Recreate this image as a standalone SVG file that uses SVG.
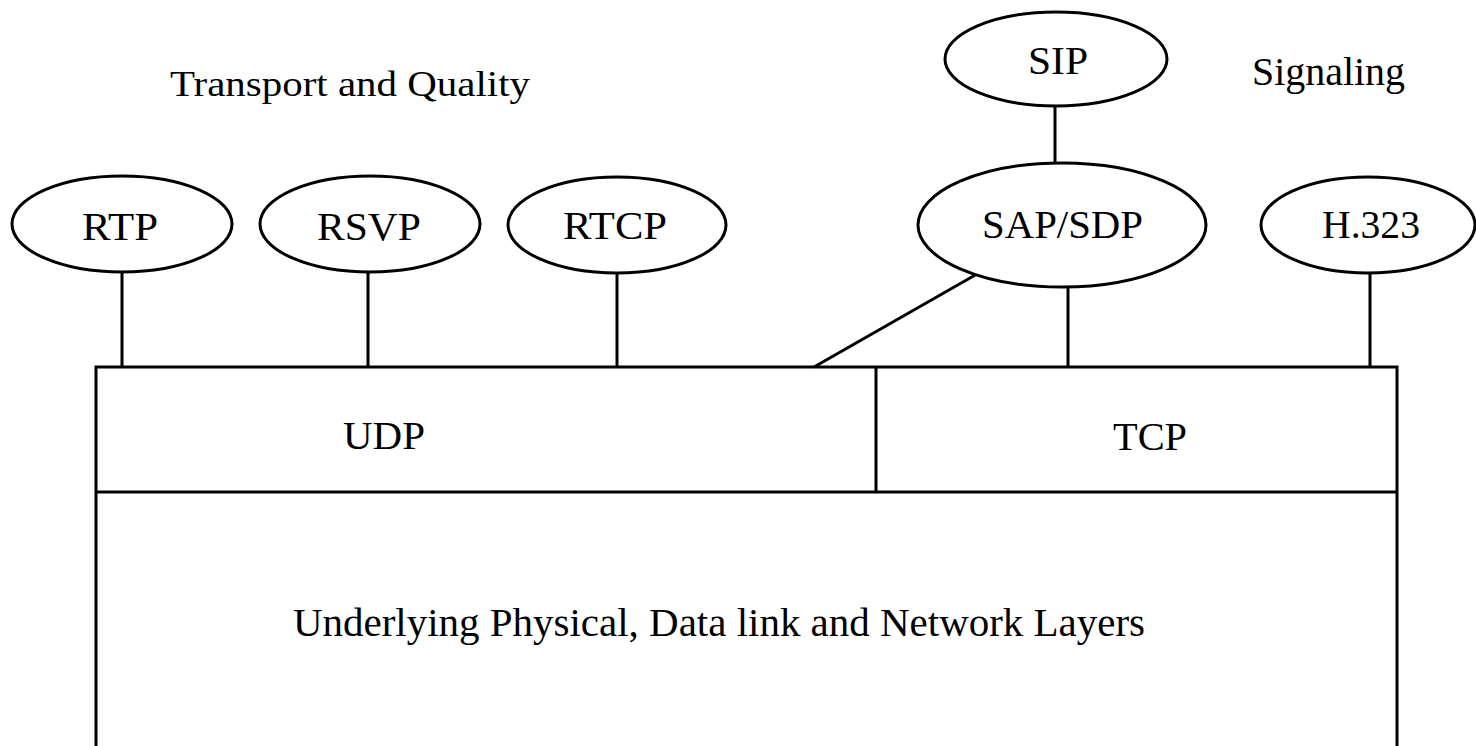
<svg xmlns="http://www.w3.org/2000/svg" width="1476" height="746" viewBox="0 0 1476 746">
<style>
.s{fill:none;stroke:#000;stroke-width:3}
.e{fill:#fff;stroke:#000;stroke-width:3}
text{font-family:"Liberation Serif","Times New Roman",serif;font-size:40px;fill:#000}
.m{text-anchor:start}
</style>
<rect width="1476" height="746" fill="#fff"/>
<g id="connectors">
<line class="s" x1="122" y1="272" x2="122" y2="367"/>
<line class="s" x1="368" y1="272" x2="368" y2="367"/>
<line class="s" x1="617" y1="273" x2="617" y2="367"/>
<line class="s" x1="1055" y1="106" x2="1055" y2="164"/>
<line class="s" x1="977" y1="274" x2="814" y2="367"/>
<line class="s" x1="1068" y1="287" x2="1068" y2="367"/>
<line class="s" x1="1370" y1="273" x2="1370" y2="367"/>
</g>
<g id="layers">
<path class="s" d="M96,760 V367 H1397 V760 M96,492 H1397 M876,367 V492"/>
</g>
<g id="udp"><text x="343" y="449" textLength="82" lengthAdjust="spacingAndGlyphs">UDP</text></g>
<g id="tcp"><text x="1113" y="450" textLength="74" lengthAdjust="spacingAndGlyphs">TCP</text></g>
<g id="underlying"><text x="293" y="636" textLength="852" lengthAdjust="spacingAndGlyphs">Underlying Physical, Data link and Network Layers</text></g>
<g id="rtp"><ellipse class="e" cx="122" cy="224" rx="110" ry="48"/><text x="82" y="240" textLength="76" lengthAdjust="spacingAndGlyphs">RTP</text></g>
<g id="rsvp"><ellipse class="e" cx="370" cy="224" rx="110" ry="48"/><text x="317" y="240" textLength="104" lengthAdjust="spacingAndGlyphs">RSVP</text></g>
<g id="rtcp"><ellipse class="e" cx="617" cy="225" rx="109" ry="48"/><text x="563" y="239" textLength="104" lengthAdjust="spacingAndGlyphs">RTCP</text></g>
<g id="sip"><ellipse class="e" cx="1056" cy="59" rx="111" ry="47"/><text x="1028" y="74" textLength="60" lengthAdjust="spacingAndGlyphs">SIP</text></g>
<g id="sapsdp"><ellipse class="e" cx="1062" cy="225" rx="144" ry="62"/><text x="982" y="238" textLength="161" lengthAdjust="spacingAndGlyphs">SAP/SDP</text></g>
<g id="h323"><ellipse class="e" cx="1368" cy="225" rx="107" ry="48"/><text x="1322" y="238" textLength="98" lengthAdjust="spacingAndGlyphs">H.323</text></g>
<g id="label-transport"><text x="170" y="96" font-size="36" style="font-size:36px" textLength="360" lengthAdjust="spacingAndGlyphs">Transport and Quality</text></g>
<g id="label-signaling"><text x="1252" y="85" textLength="153" lengthAdjust="spacingAndGlyphs">Signaling</text></g>
</svg>
